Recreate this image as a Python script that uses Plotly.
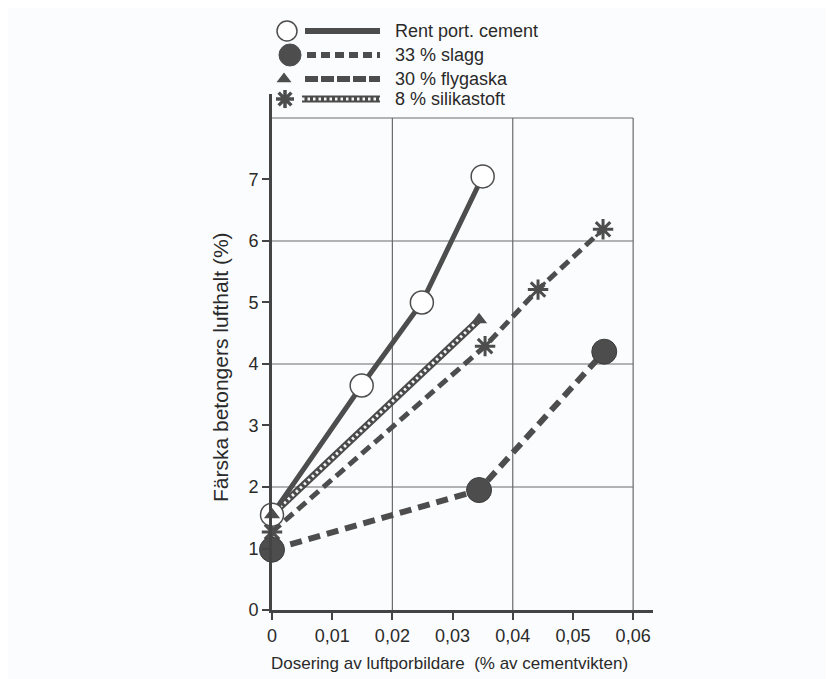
import plotly.graph_objects as go

# Färska betongers lufthalt vs dosering av luftporbildare
x_cement = [0, 0.0149, 0.0249, 0.0350]
y_cement = [1.55, 3.65, 5.00, 7.05]

x_slag = [0, 0.0344, 0.0552]
y_slag = [0.98, 1.95, 4.20]

x_fly = [0, 0.0344]
y_fly = [1.55, 4.72]

x_silica = [0, 0.0354, 0.0442, 0.0550]
y_silica = [1.27, 4.29, 5.21, 6.19]

legend_names = ["Rent port. cement", "33 % slagg", "30 % flygaska", "8 % silikastoft"]

x_ticks = [0, 0.01, 0.02, 0.03, 0.04, 0.05, 0.06]
y_ticks = [0, 1, 2, 3, 4, 5, 6, 7]
x_grid = [0.02, 0.04, 0.06]
y_grid = [2, 4, 6, 8]

dark = "#4d4d4d"
bg = "#fbfcfd"
W, H = 834, 679
OFF = 8  # page body margin, the figure is drawn shifted by this

fig = go.Figure()

# grid (only up to 0,06 / 8)
for gx in x_grid:
    fig.add_shape(type="line", x0=gx, x1=gx, y0=0, y1=8, xref="x", yref="y",
                  line=dict(color="#6a6a6a", width=1.2), layer="below")
for gy in y_grid:
    fig.add_shape(type="line", x0=0, x1=0.06, y0=gy, y1=gy, xref="x", yref="y",
                  line=dict(color="#6a6a6a", width=1.2), layer="below")

# dashed line with asterisks
fig.add_trace(go.Scatter(x=x_silica, y=y_silica, mode="lines", cliponaxis=False,
                         line=dict(color=dark, width=5, dash="11px,6px")))
fig.add_trace(go.Scatter(x=x_silica, y=y_silica, mode="markers", cliponaxis=False,
                         marker=dict(symbol="circle", size=7, color=dark)))
fig.add_trace(go.Scatter(x=x_silica, y=y_silica, mode="markers", cliponaxis=False,
                         marker=dict(symbol="asterisk-open", size=17, color=dark,
                                     line=dict(color=dark, width=3))))
# zigzag (chain) line (triangles)
fig.add_trace(go.Scatter(x=x_fly, y=y_fly, mode="lines", cliponaxis=False,
                         line=dict(color="#4a4a4a", width=7)))
fig.add_trace(go.Scatter(x=x_fly, y=y_fly, mode="lines", cliponaxis=False,
                         line=dict(color="#f4f4f4", width=3, dash="2.5px,3px")))
# slagg
fig.add_trace(go.Scatter(x=x_slag, y=y_slag, mode="lines", cliponaxis=False,
                         line=dict(color=dark, width=6, dash="12px,7px")))
# cement
fig.add_trace(go.Scatter(x=x_cement, y=y_cement, mode="lines+markers", cliponaxis=False,
                         line=dict(color=dark, width=5),
                         marker=dict(symbol="circle", size=23, color="white",
                                     line=dict(color=dark, width=1.5))))
fig.add_trace(go.Scatter(x=x_slag, y=y_slag, mode="markers", cliponaxis=False,
                         marker=dict(symbol="circle", size=25, color=dark,
                                     line=dict(color="#3c3c3c", width=1))))
fig.add_trace(go.Scatter(x=x_fly, y=y_fly, mode="markers", cliponaxis=False,
                         marker=dict(symbol="triangle-up", size=14, color=dark)))

# legend drawn on a full-figure pixel axis
leg_y = [31, 55, 79, 99]
leg_sym_x = [287, 290, 284, 285]
lx0, lx1 = 305, 380
fig.add_trace(go.Scatter(x=[lx0, lx1], y=[leg_y[0]] * 2, xaxis="x2", yaxis="y2", mode="lines",
                         line=dict(color=dark, width=6)))
fig.add_trace(go.Scatter(x=[lx0 + 2, lx1], y=[leg_y[1]] * 2, xaxis="x2", yaxis="y2", mode="lines",
                         line=dict(color=dark, width=6, dash="9px,5px")))
fig.add_trace(go.Scatter(x=[lx0, lx1], y=[leg_y[2]] * 2, xaxis="x2", yaxis="y2", mode="lines",
                         line=dict(color=dark, width=6, dash="13px,3px")))
fig.add_trace(go.Scatter(x=[lx0 - 3, lx1], y=[leg_y[3]] * 2, xaxis="x2", yaxis="y2", mode="lines",
                         line=dict(color="#4a4a4a", width=7)))
fig.add_trace(go.Scatter(x=[lx0 - 3, lx1], y=[leg_y[3]] * 2, xaxis="x2", yaxis="y2", mode="lines",
                         line=dict(color="#f4f4f4", width=3, dash="2.5px,3px")))
fig.add_trace(go.Scatter(x=leg_sym_x, y=leg_y, xaxis="x2", yaxis="y2", mode="markers",
                         marker=dict(symbol=["circle", "circle", "triangle-up", "asterisk-open"],
                                     size=[20, 22, 13, 15],
                                     color=["white", dark, dark, dark], opacity=1,
                                     line=dict(color=dark, width=[1.5, 1, 0, 3.5]))))
for name, ly in zip(legend_names, leg_y):
    fig.add_annotation(x=393, y=ly, xref="x2", yref="y2", text=name, showarrow=False,
                       xanchor="left", yanchor="middle", font=dict(size=18, color="#2a2a2a"))

# axis titles
fig.add_annotation(x=449, y=663, xref="x2", yref="y2", showarrow=False,
                   text="Dosering av luftporbildare  (% av cementvikten)",
                   font=dict(size=17, color="#2a2a2a"))
fig.add_annotation(x=220, y=367, xref="x2", yref="y2", showarrow=False, textangle=-90,
                   text="Färska betongers lufthalt (%)",
                   font=dict(size=21, color="#2a2a2a"))

fig.update_layout(
    width=W, height=H, autosize=False,
    margin=dict(l=0, r=0, t=0, b=0, pad=0, autoexpand=False),
    paper_bgcolor=bg, plot_bgcolor="rgba(0,0,0,0)",
    showlegend=False,
    separators=", ",
    font=dict(family="Liberation Sans, Arial, sans-serif", color="#2a2a2a"),
    xaxis=dict(domain=[(272 - OFF) / W, (653 - OFF) / W], range=[0, 0.0633], tickvals=x_ticks,
               ticktext=[("%g" % v).replace(".", ",") for v in x_ticks],
               showgrid=False, zeroline=False, showline=True, linewidth=3, linecolor="#444",
               ticks="outside", ticklen=7, tickwidth=2, tickcolor="#444",
               tickfont=dict(size=18), anchor="y", automargin=False),
    yaxis=dict(domain=[(H - 610 + OFF) / H, (H - 94 + OFF) / H], range=[0, 8.39], tickvals=y_ticks,
               showgrid=False, zeroline=False, showline=True, linewidth=3, linecolor="#444",
               ticks="outside", ticklen=7, tickwidth=2, tickcolor="#444",
               tickfont=dict(size=18), anchor="x", automargin=False),
    xaxis2=dict(domain=[0, 1], range=[OFF, W + OFF], visible=False, anchor="y2", fixedrange=True,
                automargin=False),
    yaxis2=dict(domain=[0, 1], range=[H + OFF, OFF], visible=False, anchor="x2", fixedrange=True,
                automargin=False),
)

fig.write_html("out.html")
